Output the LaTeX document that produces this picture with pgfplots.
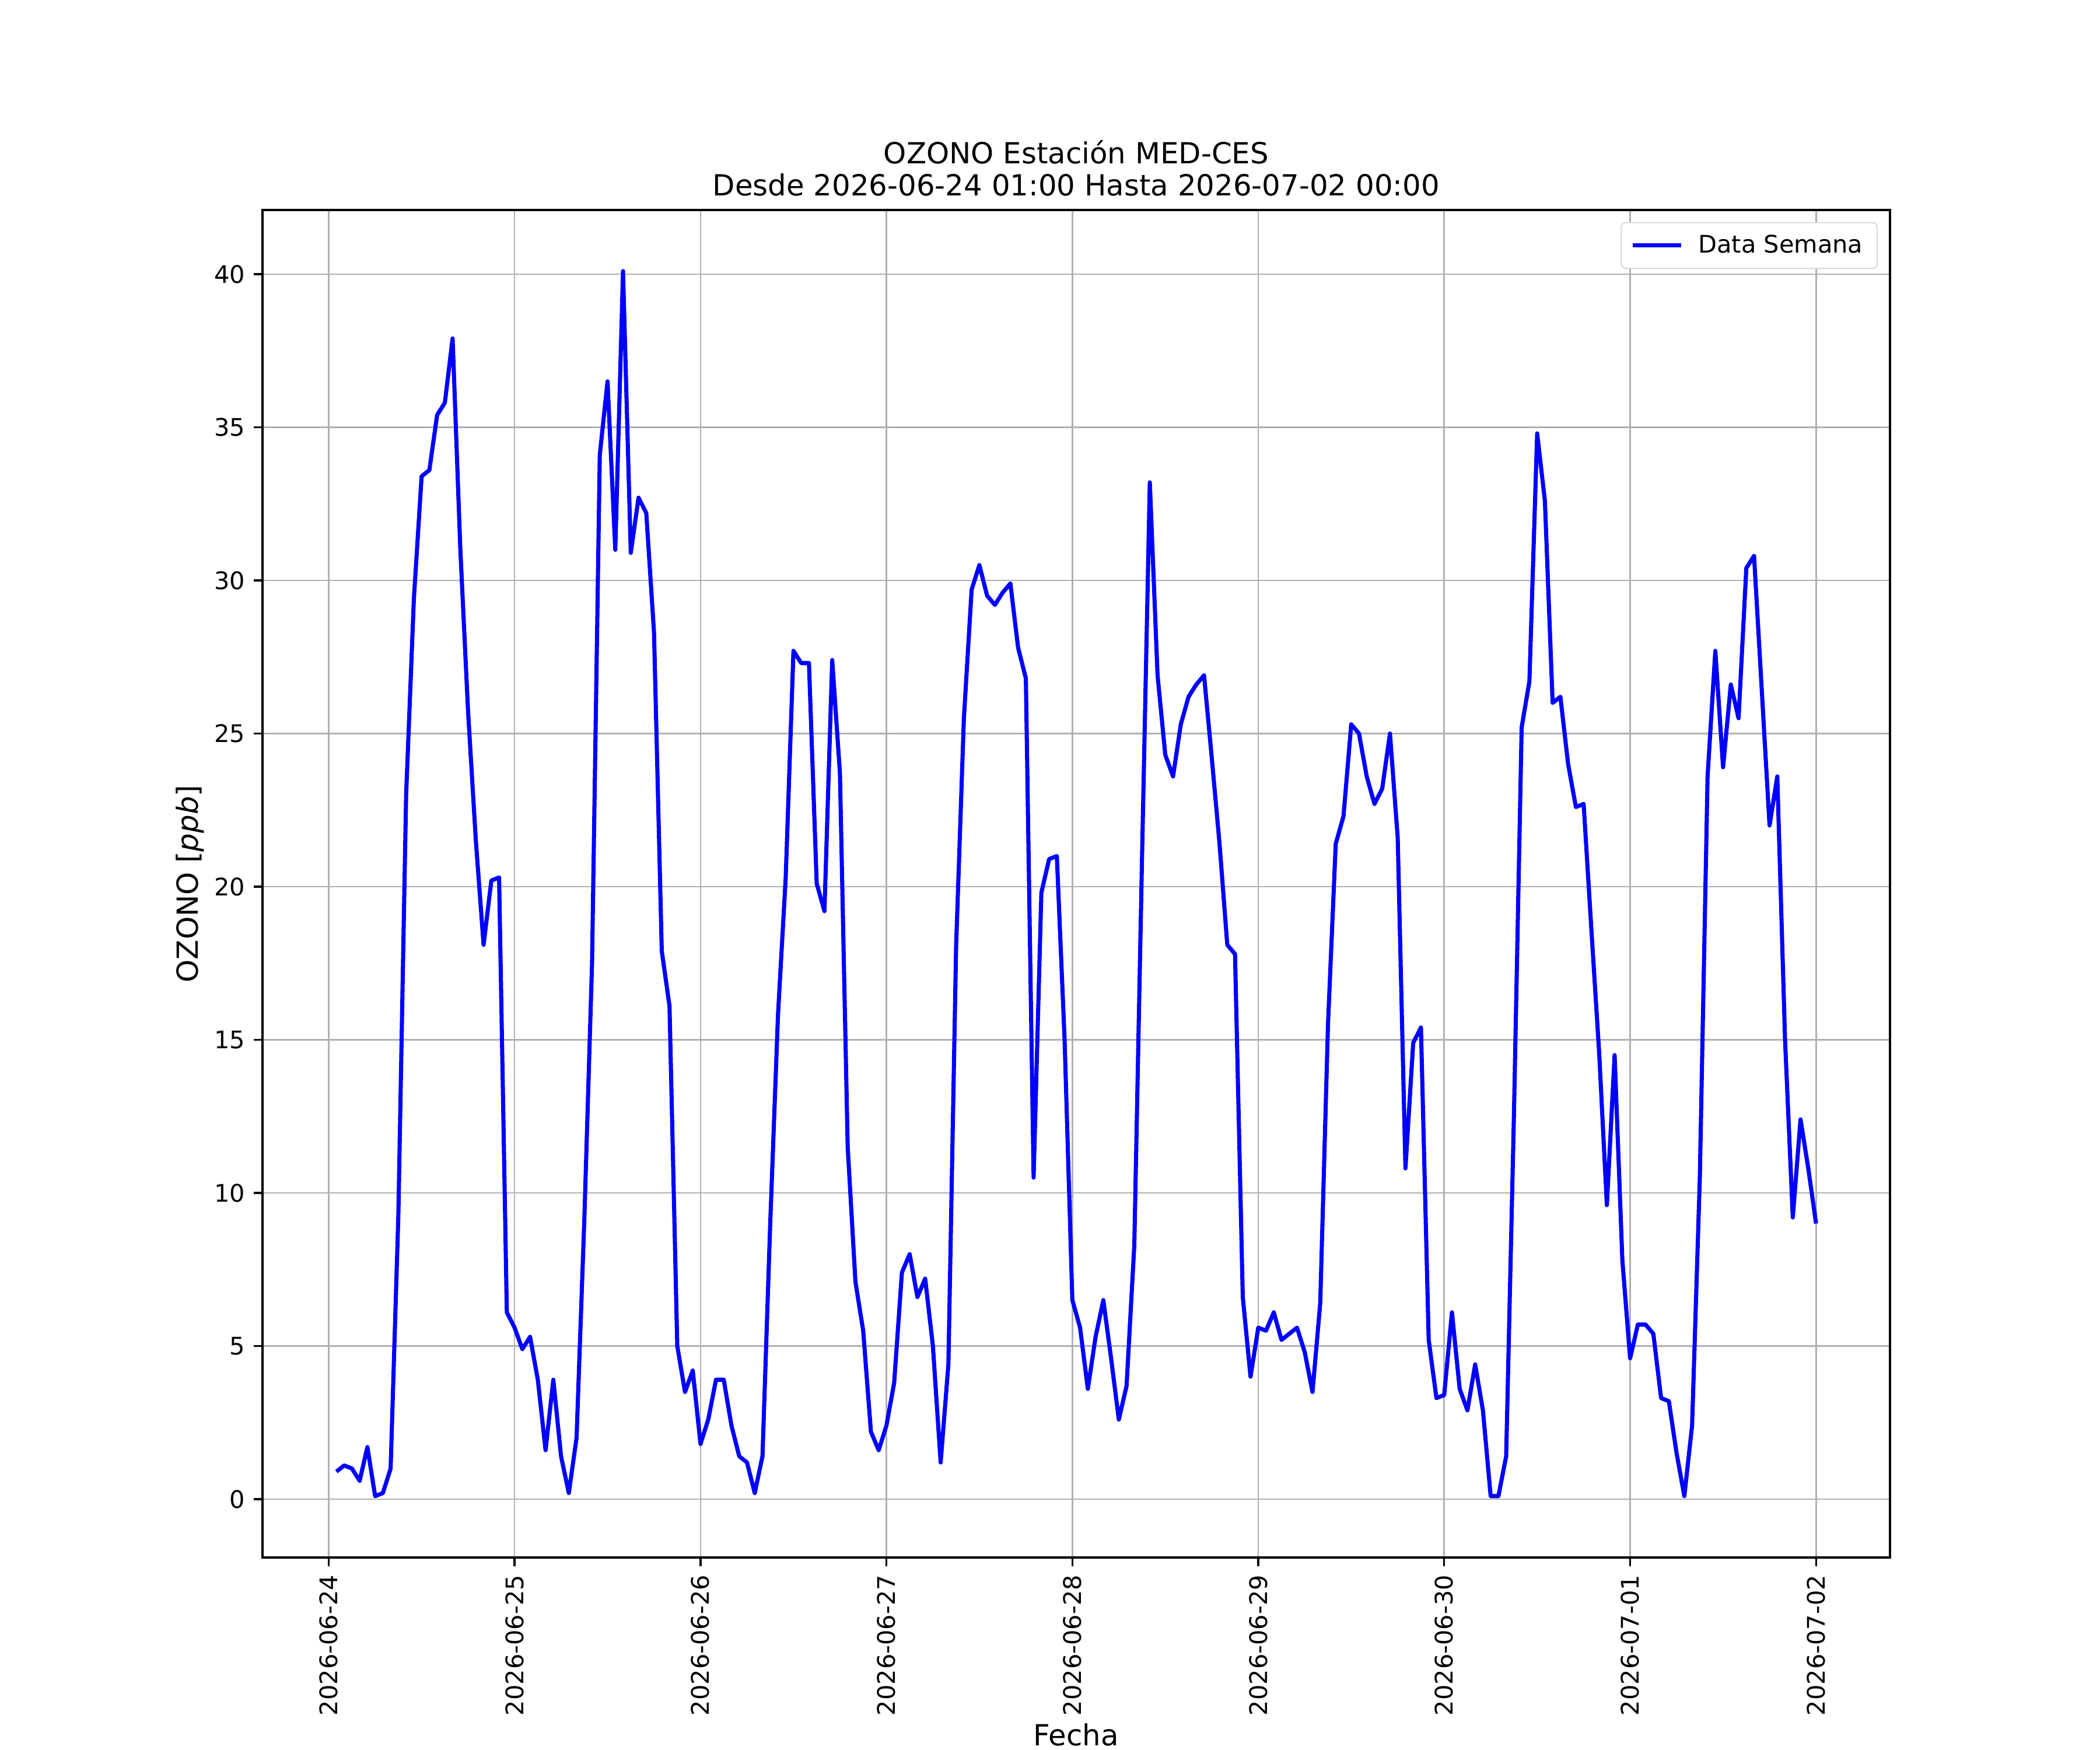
\documentclass[border=0pt]{standalone}
\usepackage{fontspec}
\setmainfont{DejaVu Sans}
\usepackage{pgfplots}
\pgfplotsset{compat=1.18}
\definecolor{gridgray}{HTML}{B0B0B0}
\newcommand\tenpt{\fontsize{10}{12}\selectfont}
\newcommand\twelvept{\fontsize{12}{13.2}\selectfont}
\begin{document}
\begin{tikzpicture}
\path[use as bounding box] (0,0) rectangle (12in,10in);
\begin{axis}[
  at={(1.5in,1.1in)}, anchor=south west,
  scale only axis, width=9.3in, height=7.7in,
  xmin=-8.54, xmax=201.55, ymin=-1.905, ymax=42.095,
  xtick={0,24,...,192},
  xticklabels={2026-06-24,2026-06-25,2026-06-26,2026-06-27,2026-06-28,2026-06-29,2026-06-30,2026-07-01,2026-07-02},
  xticklabel style={rotate=90, anchor=east, font=\tenpt, inner sep=0pt, xshift=-3.5pt},
  ytick={0,5,...,40},
  yticklabel style={font=\tenpt, inner sep=0pt, xshift=-3.5pt},
  /pgf/number format/assume math mode=true,
  xmajorgrids, ymajorgrids,
  x grid style={gridgray, line width=0.65pt},
  y grid style={gridgray, line width=0.65pt},
  tick align=outside, tick pos=left, major tick length=3.5pt,
  every tick/.style={black, line width=0.8pt},
  axis line style={black, line width=0.8pt},
  title={OZONO Estación MED-CES\\Desde 2026-06-24 01:00 Hasta 2026-07-02 00:00},
  title style={align=center, font=\twelvept, at={(0.5,1)}, anchor=south, inner sep=0pt, yshift=-0.5pt},
  xlabel={Fecha}, xlabel style={font=\twelvept, inner sep=0pt, yshift=-3pt},
  ylabel={OZONO [\textit{ppb}]}, ylabel style={font=\twelvept, inner sep=0pt, yshift=4pt},
  legend style={at={(0.9925,0.991)}, anchor=north east, draw=gridgray!60, rounded corners=2pt, font=\tenpt, inner xsep=4pt, inner ysep=3pt},
  legend cell align=left,
  legend image code/.code={\draw[#1] (0cm,0cm) -- (0.7cm,0cm); \path (0.85cm,0cm);},
]
\addplot[blue, line width=1.7pt, line join=round] coordinates {
(1,0.9)(2,1.1)(3,1.0)(4,0.6)(5,1.7)(6,0.1)(7,0.2)(8,1.0)(9,9.3)(10,23.0)(11,29.4)(12,33.4)(13,33.6)(14,35.4)(15,35.8)(16,37.9)(17,31.0)(18,25.7)(19,21.5)(20,18.1)(21,20.2)(22,20.3)(23,6.1)(24,5.6)
(25,4.9)(26,5.3)(27,3.9)(28,1.6)(29,3.9)(30,1.4)(31,0.2)(32,2.0)(33,9.1)(34,17.5)(35,34.1)(36,36.5)(37,31.0)(38,40.1)(39,30.9)(40,32.7)(41,32.2)(42,28.3)(43,17.9)(44,16.1)(45,5.0)(46,3.5)(47,4.2)(48,1.8)
(49,2.6)(50,3.9)(51,3.9)(52,2.4)(53,1.4)(54,1.2)(55,0.2)(56,1.4)(57,9.0)(58,15.8)(59,20.3)(60,27.7)(61,27.3)(62,27.3)(63,20.1)(64,19.2)(65,27.4)(66,23.7)(67,11.5)(68,7.1)(69,5.5)(70,2.2)(71,1.6)(72,2.4)
(73,3.8)(74,7.4)(75,8.0)(76,6.6)(77,7.2)(78,5.0)(79,1.2)(80,4.4)(81,18.1)(82,25.5)(83,29.7)(84,30.5)(85,29.5)(86,29.2)(87,29.6)(88,29.9)(89,27.8)(90,26.8)(91,10.5)(92,19.8)(93,20.9)(94,21.0)(95,15.0)(96,6.5)
(97,5.6)(98,3.6)(99,5.3)(100,6.5)(101,4.6)(102,2.6)(103,3.7)(104,8.3)(105,21.0)(106,33.2)(107,26.9)(108,24.3)(109,23.6)(110,25.3)(111,26.2)(112,26.6)(113,26.9)(114,24.2)(115,21.4)(116,18.1)(117,17.8)(118,6.6)(119,4.0)(120,5.6)
(121,5.5)(122,6.1)(123,5.2)(124,5.4)(125,5.6)(126,4.8)(127,3.5)(128,6.4)(129,15.5)(130,21.4)(131,22.3)(132,25.3)(133,25.0)(134,23.6)(135,22.7)(136,23.2)(137,25.0)(138,21.6)(139,10.8)(140,14.9)(141,15.4)(142,5.2)(143,3.3)(144,3.4)
(145,6.1)(146,3.6)(147,2.9)(148,4.4)(149,2.9)(150,0.1)(151,0.1)(152,1.4)(153,12.5)(154,25.2)(155,26.7)(156,34.8)(157,32.6)(158,26.0)(159,26.2)(160,24.0)(161,22.6)(162,22.7)(163,18.6)(164,14.6)(165,9.6)(166,14.5)(167,7.8)(168,4.6)
(169,5.7)(170,5.7)(171,5.4)(172,3.3)(173,3.2)(174,1.5)(175,0.1)(176,2.4)(177,10.5)(178,23.6)(179,27.7)(180,23.9)(181,26.6)(182,25.5)(183,30.4)(184,30.8)(185,26.4)(186,22.0)(187,23.6)(188,15.0)(189,9.2)(190,12.4)(191,10.8)(192,9.0)
};
\addlegendentry{Data Semana}
\end{axis}
\end{tikzpicture}
\end{document}
